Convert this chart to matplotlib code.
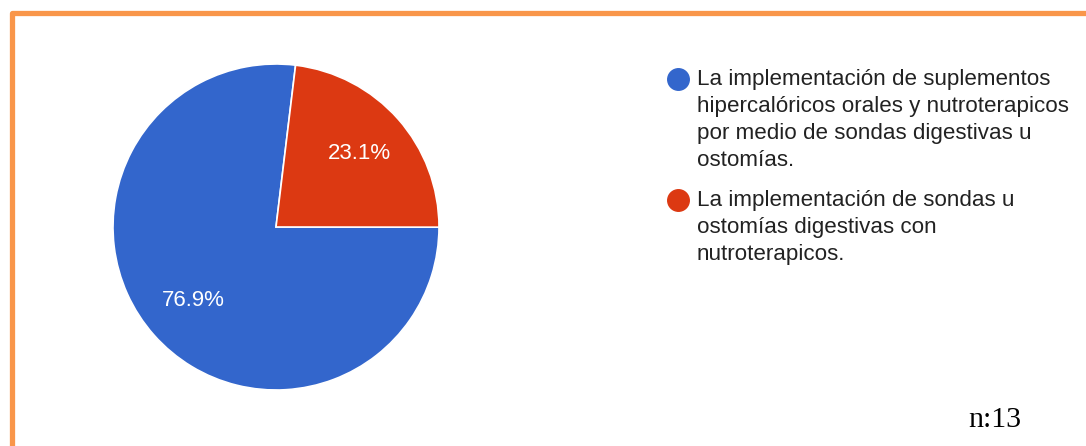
import matplotlib
matplotlib.use("Agg")
import matplotlib.pyplot as plt
from matplotlib.lines import Line2D
from matplotlib.patches import Rectangle

# Data
labels = [
    "La implementación de suplementos\nhipercalóricos orales y nutroterapicos\npor medio de sondas digestivas u\nostomías.",
    "La implementación de sondas u\nostomías digestivas con\nnutroterapicos.",
]
percentages = [76.9, 23.1]
colors = ["#3366CC", "#DC3912"]
sample_note = "n:13"

W, H = 1086, 446
fig = plt.figure(figsize=(W / 100, H / 100), dpi=100)
fig.patch.set_facecolor("white")


def fx(x):
    return x / W


def fy(y):
    return 1 - y / H


# Orange frame (top and left edges visible)
frame = Rectangle((fx(11.5), fy(H + 20)), fx(W + 40), (H + 20 - 13.5) / H,
                  transform=fig.transFigure, fill=False,
                  edgecolor="#F9964A", linewidth=3.8, joinstyle="round")
fig.add_artist(frame)

# Pie
cx, cy, r = 276, 227, 163
ax = fig.add_axes([fx(cx - r), fy(cy + r), 2 * r / W, 2 * r / H])
wedges, texts, autotexts = ax.pie(
    percentages, colors=colors, startangle=83.1, counterclock=True,
    autopct=lambda p: f"{p:.1f}%", pctdistance=0.68,
    wedgeprops=dict(edgecolor="white", linewidth=1.2),
    textprops=dict(color="white", fontsize=16, family="Liberation Sans"),
)
ax.set_xlim(-1, 1)
ax.set_ylim(-1, 1)
ax.set_aspect("equal")
ax.axis("off")

# Legend
line_h = 27
entry_gap = 13
marker_x, text_x = 678, 697
y = 85
for lab, col in zip(labels, colors):
    fig.add_artist(Line2D([fx(marker_x)], [fy(y - 6)], transform=fig.transFigure,
                          marker="o", markersize=15.5, color=col, linestyle="none"))
    for line in lab.split("\n"):
        fig.text(fx(text_x), fy(y), line, fontsize=16.1, family="Liberation Sans",
                 color="#222222", va="baseline", ha="left")
        y += line_h
    y += entry_gap

# Sample size note
fig.text(fx(995), fy(420), sample_note, fontsize=21.5, family="Liberation Serif",
         color="black", ha="center", va="center")

fig.savefig("out.png", dpi=100, facecolor="white")
